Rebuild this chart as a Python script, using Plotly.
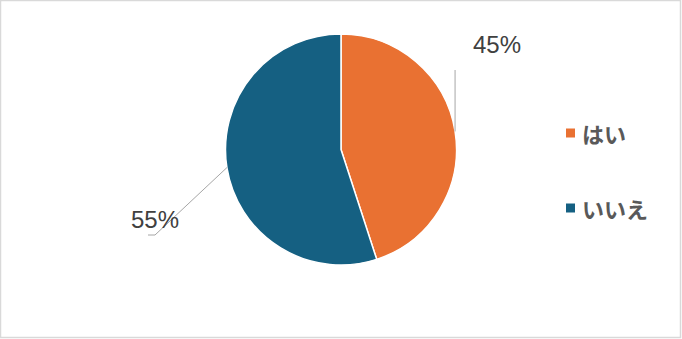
import math
import plotly.graph_objects as go

# ---- data ----
categories = ["はい", "いいえ"]
values = [45, 55]
pct_labels = ["45%", "55%"]
colors = ["#E97132", "#156082"]

W, H = 682, 339
CX, CY, R = 341, 149.5, 115.5

def px(x):
    return x / W

def py(y):
    return 1 - y / H

fig = go.Figure(go.Pie(
    labels=categories,
    values=values,
    sort=False,
    direction="clockwise",
    rotation=0,
    marker=dict(colors=colors, line=dict(color="white", width=1.5)),
    textinfo="none",
    hoverinfo="label+percent",
    showlegend=False,
    domain=dict(x=[px(CX - R), px(CX + R)], y=[py(CY + R), py(CY - R)]),
))

# leader lines start at slice mid-angle (computed from values)
total = sum(values)
cum = 0
mids = []
for v in values:
    a = (cum + v / 2) / total * 2 * math.pi
    mids.append((CX + R * math.sin(a), CY - R * math.cos(a)))
    cum += v

shapes = []
annotations = []
line_style = dict(color="#A6A6A6", width=1)
pct_font = dict(family="Liberation Sans, Arial", size=24, color="#404040")

# label 0 (top right)
x0, y0 = mids[0]
shapes.append(dict(type="path", xref="paper", yref="paper",
                   path=f"M {px(x0)} {py(y0)} L {px(x0)} {py(70)}",
                   line=line_style))
annotations.append(dict(x=px(497), y=py(44), xref="paper", yref="paper",
                        xanchor="center", yanchor="middle",
                        text=pct_labels[0], showarrow=False, font=pct_font))
# label 1 (left)
x1, y1 = mids[1]
shapes.append(dict(type="path", xref="paper", yref="paper",
                   path=f"M {px(x1)} {py(y1)} L {px(155)} {py(235)} L {px(148)} {py(235)}",
                   line=line_style))
annotations.append(dict(x=px(154.5), y=py(219.5), xref="paper", yref="paper",
                        xanchor="center", yanchor="middle",
                        text=pct_labels[1], showarrow=False, font=pct_font))

# custom legend
leg_y = [133, 208]
for i, (cat, col) in enumerate(zip(categories, colors)):
    shapes.append(dict(type="rect", xref="paper", yref="paper",
                       x0=px(566), x1=px(575), y0=py(leg_y[i] + 4.5), y1=py(leg_y[i] - 4.5),
                       fillcolor=col, line=dict(width=0)))
    annotations.append(dict(x=px(580), y=py(leg_y[i]), xref="paper", yref="paper",
                            xanchor="left", yanchor="middle", text=f"<b>{cat}</b>", showarrow=False,
                            font=dict(family="Noto Sans CJK JP", size=22, color="#595959")))

# chart border
shapes.append(dict(type="rect", xref="paper", yref="paper",
                   x0=px(0.5), x1=px(680.5), y0=py(337.5), y1=py(0.5),
                   line=dict(color="#D9D9D9", width=1.5), fillcolor="rgba(0,0,0,0)"))

fig.update_layout(
    width=W, height=H, autosize=False,
    margin=dict(l=0, r=0, t=0, b=0),
    paper_bgcolor="white", plot_bgcolor="white",
    shapes=shapes, annotations=annotations,
)

fig.write_html("out.html")
